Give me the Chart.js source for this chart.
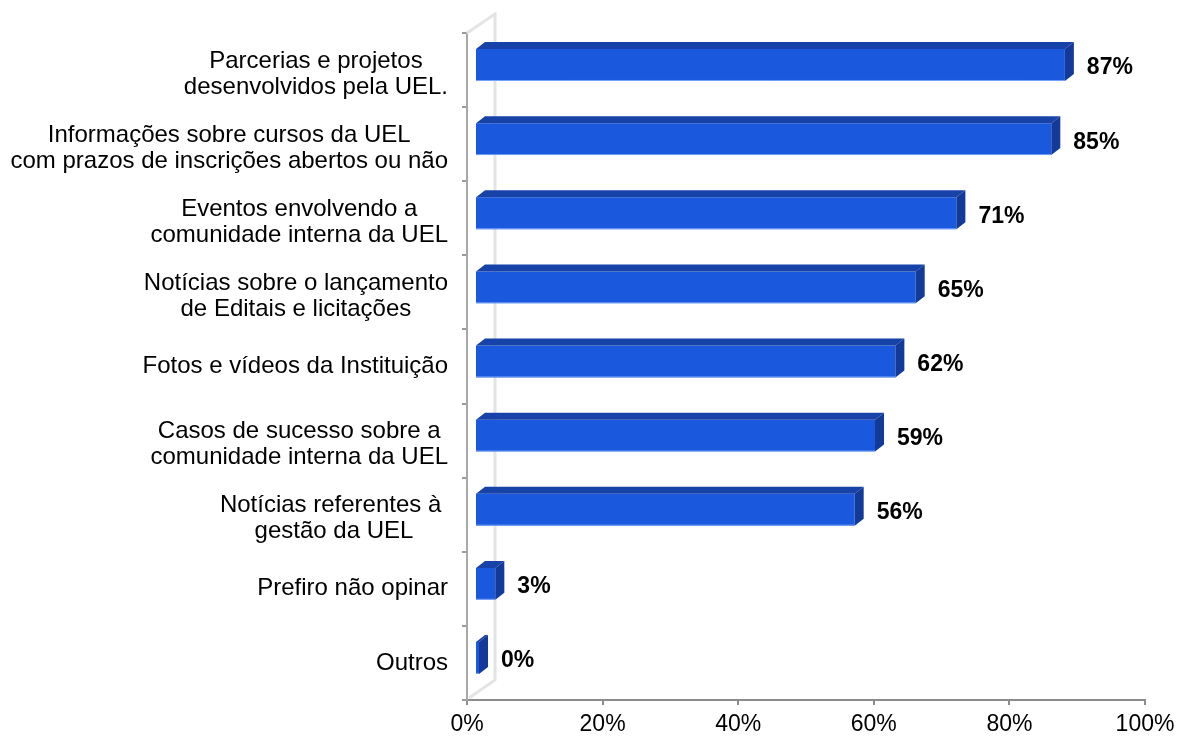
<!DOCTYPE html>
<html>
<head>
<meta charset="utf-8">
<script src="https://cdn.jsdelivr.net/npm/chart.js@4/dist/chart.umd.min.js"></script>
<style>
html,body{margin:0;padding:0;background:#fff;}
#wrap{position:relative;width:1177px;height:740px;}
</style>
</head>
<body>
<div id="wrap"><canvas id="c" width="1177" height="740"></canvas></div>
<script>
const categories = [
  ['Parcerias e projetos', 'desenvolvidos pela UEL.'],
  ['Informações sobre cursos da UEL', 'com prazos de inscrições abertos ou não'],
  ['Eventos envolvendo a', 'comunidade interna da UEL'],
  ['Notícias sobre o lançamento', 'de Editais e licitações'],
  ['Fotos e vídeos da Instituição'],
  ['Casos de sucesso sobre a', 'comunidade interna da UEL'],
  ['Notícias referentes à ', 'gestão da UEL'],
  ['Prefiro não opinar'],
  ['Outros']
];
const values = [87, 85, 71, 65, 62, 59, 56, 3, 0];
const xMin = 0, xMax = 100, xStep = 20;

const FONT = '"Liberation Sans", Arial, sans-serif';
const DX = 8, DY = -5;      // front face shift (3D)
const DEPTH_X = 9, DEPTH_Y = 7;
const FRONT = '#1a59de', TOP = '#1742a8', SIDE = '#133a98';

const threeD = {
  id: 'threeD',
  beforeDatasetsDraw(chart) {
    const ctx = chart.ctx, a = chart.chartArea;
    ctx.save();
    ctx.strokeStyle = '#e4e4e4';
    ctx.lineWidth = 3;
    ctx.beginPath();
    ctx.moveTo(a.left, a.top);
    ctx.lineTo(a.left + 28, a.top - 19);
    ctx.lineTo(a.left + 28, a.bottom - 20);
    ctx.lineTo(a.left + 2, a.bottom - 2);
    ctx.stroke();
    ctx.restore();
    ctx.save();
    ctx.translate(DX, DY);
  },
  afterDatasetsDraw(chart) {
    const ctx = chart.ctx;
    const meta = chart.getDatasetMeta(0);
    meta.data.forEach((bar) => {
      const p = bar.getProps(['x', 'y', 'base', 'height'], true);
      const x0 = Math.min(p.base, p.x), x1 = Math.max(p.base, p.x);
      const y0 = p.y - p.height / 2, y1 = p.y + p.height / 2;
      ctx.fillStyle = TOP;
      ctx.beginPath();
      ctx.moveTo(x0, y0);
      ctx.lineTo(x0 + DEPTH_X, y0 - DEPTH_Y);
      ctx.lineTo(x1 + DEPTH_X, y0 - DEPTH_Y);
      ctx.lineTo(x1, y0);
      ctx.closePath();
      ctx.fill();
      ctx.fillStyle = SIDE;
      ctx.beginPath();
      ctx.moveTo(x1, y0);
      ctx.lineTo(x1 + DEPTH_X, y0 - DEPTH_Y);
      ctx.lineTo(x1 + DEPTH_X, y1 - DEPTH_Y);
      ctx.lineTo(x1, y1);
      ctx.closePath();
      ctx.fill();
      ctx.strokeStyle = 'rgba(140,180,255,0.8)';
      ctx.lineWidth = 1;
      ctx.beginPath();
      ctx.moveTo(x0, y1 - 0.5);
      ctx.lineTo(x1, y1 - 0.5);
      ctx.stroke();
    });
    ctx.restore();
    ctx.save();
    ctx.font = 'bold 23px ' + FONT;
    ctx.fillStyle = '#000';
    ctx.textAlign = 'left';
    ctx.textBaseline = 'middle';
    meta.data.forEach((bar, i) => {
      const p = bar.getProps(['x', 'y'], true);
      ctx.fillText(values[i] + '%', p.x + DX + DEPTH_X + 13, p.y - 2);
    });
    ctx.restore();
  },
  afterDraw(chart) {
    const ctx = chart.ctx, ys = chart.scales.y;
    ctx.save();
    ctx.font = '24px ' + FONT;
    ctx.fillStyle = '#000';
    ctx.textAlign = 'center';
    ctx.textBaseline = 'middle';
    const right = 448, lh = 26;
    categories.forEach((lines, i) => {
      const cy = ys.getPixelForValue(i) + (lines.length > 1 ? 4 : 0);
      const w = Math.max(...lines.map(l => ctx.measureText(l).width));
      const cx = right - w / 2;
      lines.forEach((l, k) => {
        ctx.fillText(l, cx, cy + (k - (lines.length - 1) / 2) * lh);
      });
    });
    ctx.restore();
  }
};

new Chart(document.getElementById('c'), {
  type: 'bar',
  data: {
    labels: categories,
    datasets: [{
      data: values,
      backgroundColor: FRONT,
      borderWidth: 0,
      barPercentage: 0.43,
      categoryPercentage: 1,
      minBarLength: 4
    }]
  },
  options: {
    indexAxis: 'y',
    responsive: false,
    animation: false,
    devicePixelRatio: 1,
    layout: { padding: { top: 33, right: 32, left: 0, bottom: 0 } },
    plugins: { legend: { display: false }, tooltip: { enabled: false } },
    scales: {
      x: {
        min: xMin, max: xMax,
        ticks: {
          stepSize: xStep,
          callback: v => v + '%',
          font: { family: FONT, size: 23 },
          color: '#000',
          padding: 6,
          maxRotation: 0
        },
        grid: { drawOnChartArea: false, tickLength: 5, color: '#8c8c8c', lineWidth: 2 },
        border: { color: '#8c8c8c', width: 2 },
        afterFit(s) { s.height = 40; s.paddingLeft = 0; s.paddingRight = 0; }
      },
      y: {
        ticks: { display: false },
        grid: { drawOnChartArea: false, tickLength: 5, color: '#9a9a9a', lineWidth: 2, offset: true },
        border: { color: '#a8a8a8', width: 2 },
        afterFit(s) { s.width = 467; }
      }
    }
  },
  plugins: [threeD]
});
</script>
</body>
</html>
